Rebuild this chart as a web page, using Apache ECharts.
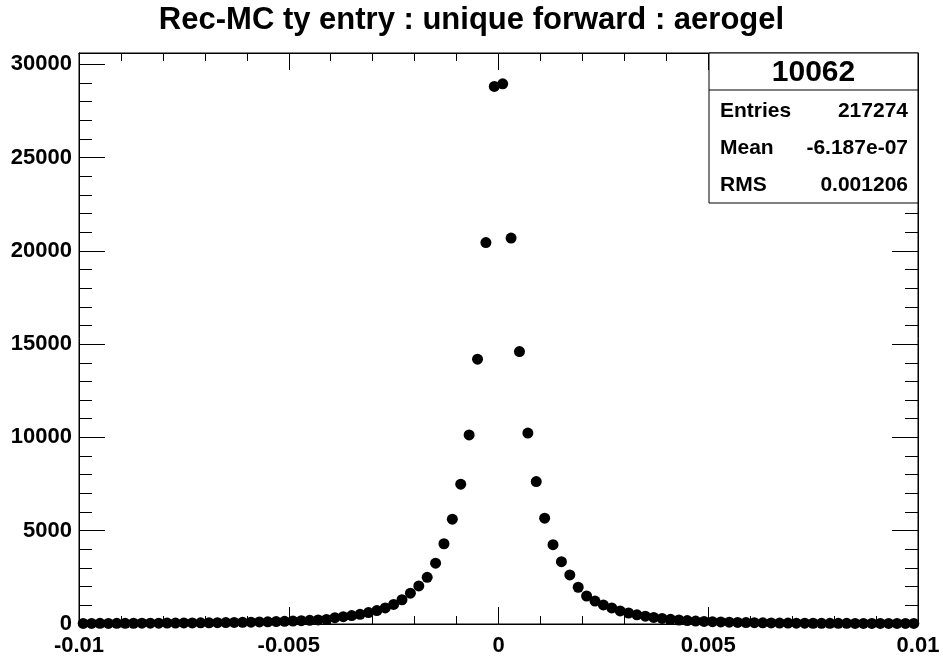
<!DOCTYPE html>
<html>
<head>
<meta charset="utf-8">
<script src="https://cdn.jsdelivr.net/npm/echarts@6/dist/echarts.min.js"></script>
<style>html,body{margin:0;padding:0;background:#fff;}#c{width:943px;height:664px;}</style>
</head>
<body>
<div id="c"></div>
<script>
// Histogram definition: 100 bins from -0.01 to 0.01
const xMin = -0.01;
const xMax = 0.01;
const binWidth = 0.0002;
// Bin contents (bin 0 = -0.0099 ... bin 99 = 0.0099)
const counts = [
  30, 32, 35, 33, 38, 36, 40, 42, 45, 44,
  48, 52, 55, 58, 62, 66, 72, 76, 82, 90,
  98, 108, 118, 130, 142, 158, 175, 195, 218, 245,
  340, 390, 450, 520, 610, 720, 860, 1050, 1300, 1650,
  2040, 2500, 3260, 4300, 5620, 7490, 10130, 14190, 20440, 28810,
  28950, 20680, 14600, 10230, 7630, 5670, 4250, 3340, 2630, 1970,
  1500, 1230, 1020, 860, 700, 590, 490, 420, 350, 300,
  250, 215, 185, 160, 140, 122, 108, 95, 84, 75,
  68, 62, 56, 52, 48, 45, 42, 40, 38, 36,
  35, 34, 33, 32, 31, 30, 30, 29, 28, 28
];
const binCenters = counts.map((_, i) => xMin + binWidth * (i + 0.5));
const yMax = 30600;
const xTickStep = 0.005;
const yTickStep = 5000;
const yMinorStep = 1000;
const titleText = 'Rec-MC ty entry : unique forward : aerogel';
const statsName = '10062';
const statsLabels = ['Entries', 'Mean', 'RMS'];
const statsValues = ['217274', '-6.187e-07', '0.001206'];

const chart = echarts.init(document.getElementById('c'), null, {renderer: 'canvas'});
const FONT = 'Liberation Sans, Arial, Helvetica, sans-serif';
const black = '#000';

function xAxisDef(pos, showLabel) {
  return {
    type: 'value', position: pos, min: xMin, max: xMax, interval: xTickStep,
    axisLine: {show: true, onZero: false, lineStyle: {color: black, width: 1}},
    axisTick: {show: true, inside: true, length: 17, lineStyle: {color: black, width: 1}},
    minorTick: {show: true, splitNumber: 5, length: 8, lineStyle: {color: black, width: 1}},
    splitLine: {show: false}, minorSplitLine: {show: false},
    axisLabel: {
      show: showLabel, color: black, fontSize: 22, fontWeight: 'bold', fontFamily: FONT, margin: 11,
      formatter: v => String(+(+v).toFixed(4))
    }
  };
}
function yAxisDef(pos, step, len, showLabel, showLine) {
  return {
    type: 'value', position: pos, min: 0, max: yMax, interval: step,
    axisLine: {show: showLine, onZero: false, lineStyle: {color: black, width: 1}},
    axisTick: {show: true, inside: true, length: len, lineStyle: {color: black, width: 1}},
    splitLine: {show: false},
    axisLabel: {
      show: showLabel, showMaxLabel: false, color: black, fontSize: 22, fontWeight: 'bold', fontFamily: FONT, margin: 7,
      formatter: v => (v % yTickStep === 0 ? String(v) : '')
    }
  };
}

const statsBox = {x: 709, y: 53, w: 209, h: 150};
const rowY = [111, 148, 185];
const graphics = [
  {type: 'text', left: 'center', top: 5, style: {text: titleText, fill: black, font: 'bold 31px ' + FONT}},
  {type: 'rect', shape: {x: statsBox.x, y: statsBox.y, width: statsBox.w, height: statsBox.h}, style: {fill: '#fff', stroke: black, lineWidth: 1}, z: 10},
  {type: 'line', shape: {x1: statsBox.x, y1: 90, x2: statsBox.x + statsBox.w, y2: 90}, style: {stroke: black, lineWidth: 1}, z: 11},
  {type: 'text', x: statsBox.x + statsBox.w / 2, y: 73, style: {text: statsName, fill: black, font: 'bold 30px ' + FONT, align: 'center', verticalAlign: 'middle'}, z: 11}
];
statsLabels.forEach((lab, i) => {
  graphics.push({type: 'text', x: 720, y: rowY[i], style: {text: lab, fill: black, font: 'bold 21px ' + FONT, align: 'left', verticalAlign: 'middle'}, z: 11});
  graphics.push({type: 'text', x: 908, y: rowY[i], style: {text: statsValues[i], fill: black, font: 'bold 21px ' + FONT, align: 'right', verticalAlign: 'middle'}, z: 11});
});

chart.setOption({
  animation: false,
  backgroundColor: '#fff',
  grid: {left: 79, right: 25, top: 53, bottom: 40, show: true, borderColor: black, borderWidth: 1, backgroundColor: 'transparent', containLabel: false},
  xAxis: [xAxisDef('bottom', true), xAxisDef('top', false)],
  yAxis: [
    yAxisDef('left', yTickStep, 26, true, true),
    yAxisDef('left', yMinorStep, 13, false, false),
    yAxisDef('right', yTickStep, 26, false, true),
    yAxisDef('right', yMinorStep, 13, false, false)
  ],
  series: [{
    type: 'scatter', xAxisIndex: 0, yAxisIndex: 0,
    symbol: 'circle', symbolSize: 11,
    itemStyle: {color: black, opacity: 1},
    data: binCenters.map((x, i) => [x, counts[i]])
  }],
  graphic: graphics
});
</script>
</body>
</html>
